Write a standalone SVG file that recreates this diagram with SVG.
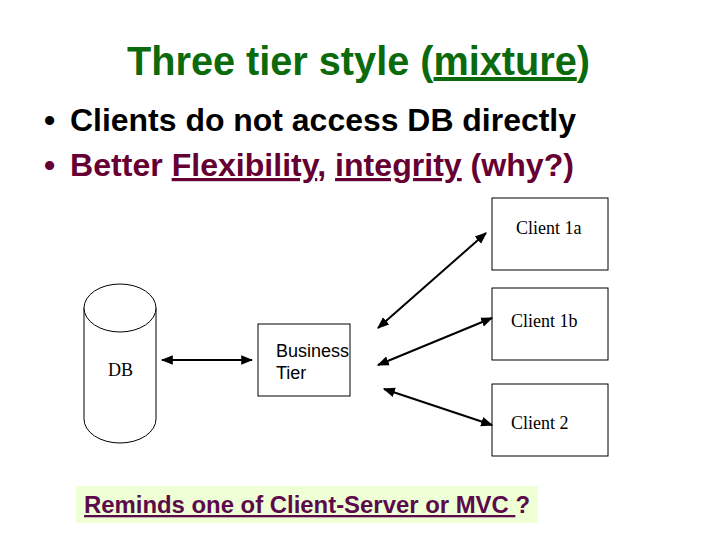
<svg xmlns="http://www.w3.org/2000/svg" width="720" height="540" viewBox="0 0 720 540">
<style>
.title{font-family:"Liberation Sans",Arial,sans-serif;font-weight:bold;font-size:40px;fill:#0b6a0b}
.b1{font-family:"Liberation Sans",Arial,sans-serif;font-weight:bold;font-size:32px;fill:#000}
.b2{font-family:"Liberation Sans",Arial,sans-serif;font-weight:bold;font-size:32px;fill:#660033}
.serif{font-family:"Liberation Serif","Times New Roman",serif;font-size:18px;fill:#000}
.sans{font-family:"Liberation Sans",Arial,sans-serif;font-size:18px;fill:#000}
.box{fill:#fff;stroke:#000;stroke-width:1}
.conn{stroke:#000;stroke-width:2;fill:none;marker-start:url(#ah);marker-end:url(#ah)}
.note{font-family:"Liberation Sans",Arial,sans-serif;font-weight:bold;font-size:23px;fill:#5c0a4c}
</style>
<defs>
<marker id="ah" viewBox="0 0 10 10" refX="9" refY="5" markerWidth="6" markerHeight="6" orient="auto-start-reverse" markerUnits="strokeWidth">
<path d="M0,1 L10,5 L0,9 Z" fill="#000"/>
</marker>
</defs>
<rect width="720" height="540" fill="#fff"/>
<g id="title">
<text class="title" x="127" y="75" textLength="463" lengthAdjust="spacingAndGlyphs">Three tier style (<tspan text-decoration="underline">mixture</tspan>)</text>
</g>
<g id="bullets">
<text class="b1" x="44" y="131">•</text>
<text class="b1" x="70" y="131" textLength="506" lengthAdjust="spacingAndGlyphs">Clients do not access DB directly</text>
<text class="b2" x="44" y="176">•</text>
<text class="b2" x="70" y="176" textLength="504" lengthAdjust="spacingAndGlyphs">Better <tspan text-decoration="underline">Flexibility</tspan>, <tspan text-decoration="underline">integrity</tspan> (why?)</text>
</g>
<g id="db">
<path class="box" d="M84,308 L84,419 A36,24 0 0 0 156,419 L156,308"/>
<ellipse class="box" cx="120" cy="308" rx="36" ry="24"/>
<text class="serif" x="108" y="376">DB</text>
</g>
<g id="business">
<rect class="box" x="258" y="324" width="92" height="72"/>
<text class="sans" x="276" y="357">Business</text>
<text class="sans" x="276" y="379">Tier</text>
</g>
<g id="client1a">
<rect class="box" x="492" y="198" width="116" height="72"/>
<text class="serif" x="516" y="234">Client 1a</text>
</g>
<g id="client1b">
<rect class="box" x="492" y="288" width="116" height="72"/>
<text class="serif" x="511" y="327">Client 1b</text>
</g>
<g id="client2">
<rect class="box" x="492" y="384" width="116" height="72"/>
<text class="serif" x="511" y="429">Client 2</text>
</g>
<g id="connectors">
<line class="conn" x1="162" y1="360" x2="252" y2="360"/>
<line class="conn" x1="378" y1="328" x2="486" y2="233"/>
<line class="conn" x1="378" y1="365" x2="492" y2="318"/>
<line class="conn" x1="384" y1="389" x2="492" y2="425"/>
</g>
<g id="note">
<rect x="76" y="486" width="462" height="37" fill="#efffd6"/>
<text class="note" x="84" y="513" textLength="446" lengthAdjust="spacingAndGlyphs"><tspan text-decoration="underline">Reminds one of Client-Server or MVC </tspan>?</text>
</g>
</svg>
